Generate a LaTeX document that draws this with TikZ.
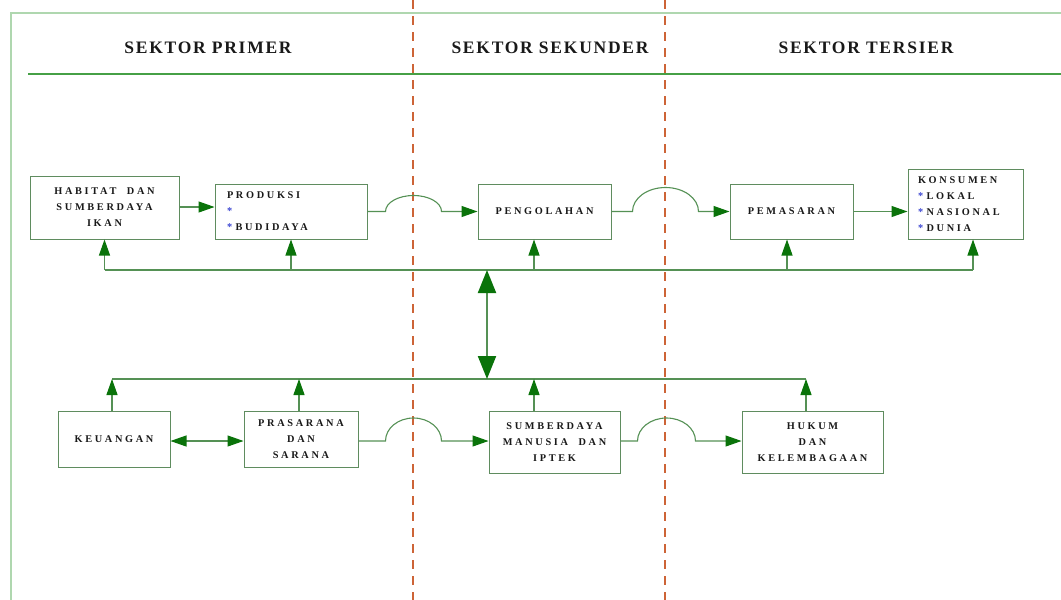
\documentclass[tikz,border=0pt]{standalone}
\usepackage{fontspec}
\usepackage{tikz}
\usetikzlibrary{arrows.meta}
\newfontfamily\headfont[LetterSpace=10]{Liberation Serif}
\newfontfamily\boxfont[LetterSpace=26]{Liberation Serif}
\definecolor{frame}{RGB}{175, 215, 175}
\definecolor{rule}{RGB}{70, 160, 70}
\definecolor{sector}{RGB}{205, 100, 55}
\definecolor{boxline}{RGB}{95, 140, 95}
\definecolor{link}{RGB}{85, 145, 85}
\definecolor{tip}{RGB}{10, 115, 10}
\definecolor{star}{RGB}{60, 70, 210}

\begin{document}
\begin{tikzpicture}[x=1pt, y=-1pt,
    head/.style={font=\headfont\bfseries\fontsize{17.5}{19}\selectfont, text=black!90},
    box/.style={draw=boxline, line width=1pt, fill=white, inner sep=0pt,
                font=\boxfont\bfseries\fontsize{10.3}{16}\selectfont, text=black!90, align=center},
    link/.style={draw=link, line width=1.1pt},
    arr/.style={link, -{Triangle[length=16pt, width=11pt, color=tip]}},
    arrs/.style={link, {Triangle[length=16pt, width=11pt, color=tip]}-{Triangle[length=16pt, width=11pt, color=tip]}},
    big/.style={draw=link, line width=2pt, {Triangle[length=23pt, width=18pt, color=tip]}-{Triangle[length=23pt, width=18pt, color=tip]}},
    divider/.style={draw=sector, line width=1.5pt, dash pattern=on 9pt off 7pt},
    star/.style={text=star}]
  \useasboundingbox (0,0) rectangle (1061,600);
  \fill[white] (0,0) rectangle (1061,600);

  % bingkai dan judul
  \draw[frame, line width=1.2pt] (11,600) -- (11,13) -- (1061,13);
  \draw[rule, line width=2pt] (28,74) -- (1061,74);
  \node[head] (primer) at (208,48) {SEKTOR PRIMER};
  \node[head] (sekunder) at (550,48) {SEKTOR SEKUNDER};
  \node[head] (tersier) at (866,48) {SEKTOR TERSIER};
  \draw[divider] (413,0) -- (413,600);
  \draw[divider] (665,0) -- (665,600);

  % baris atas
  \node[box, minimum width=149pt, minimum height=63pt] (habitat) at (104.5,207.5)
    {HABITAT\ \ DAN\\SUMBERDAYA\\IKAN};
  \node[box, inner xsep=12pt, text width=128pt, minimum height=55pt, align=left] (produksi) at (291,211.5)
    {PRODUKSI\\{\color{star}*}\\{\color{star}*} BUDIDAYA};
  \node[box, minimum width=133pt, minimum height=55pt] (pengolahan) at (544.5,211.5) {PENGOLAHAN};
  \node[box, minimum width=123pt, minimum height=55pt] (pemasaran) at (791.5,211.5) {PEMASARAN};
  \node[box, inner xsep=10pt, text width=95pt, minimum height=70pt, align=left] (konsumen) at (965.5,204)
    {KONSUMEN\\{\color{star}*} LOKAL\\{\color{star}*} NASIONAL\\{\color{star}*} DUNIA};

  % baris bawah
  \node[box, minimum width=112pt, minimum height=56pt] (keuangan) at (114,439) {KEUANGAN};
  \node[box, minimum width=114pt, minimum height=56pt] (prasarana) at (301,439)
    {PRASARANA\\DAN\\SARANA};
  \node[box, minimum width=131pt, minimum height=62pt] (sdm) at (554.5,442)
    {SUMBERDAYA\\MANUSIA\ \ DAN\\IPTEK};
  \node[box, minimum width=141pt, minimum height=62pt] (hukum) at (812.5,442)
    {HUKUM\\DAN\\KELEMBAGAAN};

  \coordinate (atas) at (0,270);
  \coordinate (bawah) at (0,379);

  % alur produksi
  \draw[arr] (habitat.east |- 0,207) -- (produksi.west |- 0,207);
  \draw[arr] (produksi.east) -- ++(18,0)
    arc[start angle=180, end angle=0, x radius=28pt, y radius=16pt] -- (pengolahan.west);
  \draw[arr] (pengolahan.east) -- ++(21,0)
    arc[start angle=180, end angle=0, x radius=33pt, y radius=24pt] -- (pemasaran.west);
  \draw[arr] (pemasaran.east) -- (konsumen.west |- pemasaran.east);

  \draw[arrs] (keuangan.east |- 0,441) -- (prasarana.west |- 0,441);
  \draw[arr] (prasarana.east |- 0,441) -- ++(27,0)
    arc[start angle=180, end angle=0, x radius=28pt, y radius=23pt] -- (sdm.west |- 0,441);
  \draw[arr] (sdm.east |- 0,441) -- ++(17,0)
    arc[start angle=180, end angle=0, x radius=29pt, y radius=23pt] -- (hukum.west |- 0,441);

  % umpan balik
  \draw[link] (habitat.south |- atas) -- ([xshift=7.5pt]konsumen.south |- atas);
  \draw[arr] (habitat.south |- atas) -- (habitat.south);
  \draw[arr] (produksi.south |- atas) -- (produksi.south);
  \draw[arr] ([xshift=-10.5pt]pengolahan.south |- atas) -- ([xshift=-10.5pt]pengolahan.south);
  \draw[arr] ([xshift=-4.5pt]pemasaran.south |- atas) -- ([xshift=-4.5pt]pemasaran.south);
  \draw[arr] ([xshift=7.5pt]konsumen.south |- atas) -- ([xshift=7.5pt]konsumen.south);

  \draw[link] ([xshift=-2pt]keuangan.north |- bawah) -- ([xshift=-6.5pt]hukum.north |- bawah);
  \draw[arr] ([xshift=-2pt]keuangan.north) -- ([xshift=-2pt]keuangan.north |- bawah);
  \draw[arr] ([xshift=-2pt]prasarana.north) -- ([xshift=-2pt]prasarana.north |- bawah);
  \draw[arr] ([xshift=-20.5pt]sdm.north) -- ([xshift=-20.5pt]sdm.north |- bawah);
  \draw[arr] ([xshift=-6.5pt]hukum.north) -- ([xshift=-6.5pt]hukum.north |- bawah);

  \draw[big] (487,270) -- (487,379);
\end{tikzpicture}
\end{document}
